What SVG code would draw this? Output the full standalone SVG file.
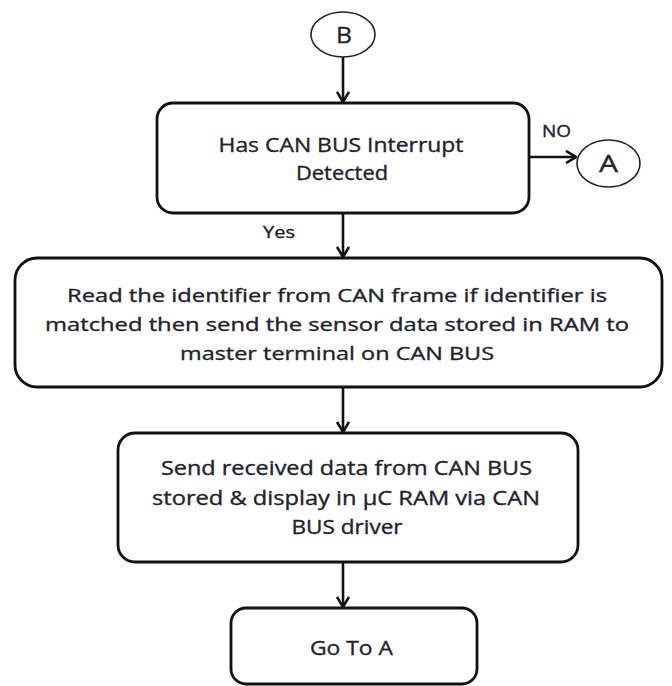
<svg xmlns="http://www.w3.org/2000/svg" width="672" height="686" viewBox="0 0 672 686">
<defs>
<style>
.box{fill:#fff;stroke:#111;stroke-width:2.8}
.conn{fill:#fff;stroke:#222;stroke-width:1.6}
.t{font-family:"Open Sans","Noto Sans","Liberation Sans",sans-serif;fill:#22222c;stroke:#22222c;stroke-width:0.35;text-anchor:middle}
.edge{fill:none;stroke:#111;stroke-width:2.6}
</style>
<marker id="arr" viewBox="0 0 12 14" markerWidth="12" markerHeight="14" refX="11" refY="7" orient="auto" markerUnits="userSpaceOnUse">
<path d="M1,1 L11,7 L1,13" fill="none" stroke="#111" stroke-width="2.6"/>
</marker>
</defs>
<rect width="672" height="686" fill="#fff"/>
<g id="connectors">
<line class="edge" x1="343" y1="57" x2="343" y2="102" marker-end="url(#arr)"/>
<line class="edge" x1="529" y1="157" x2="576" y2="157" marker-end="url(#arr)"/>
<line class="edge" x1="343" y1="213" x2="343" y2="257" marker-end="url(#arr)"/>
<line class="edge" x1="343" y1="387" x2="343" y2="432" marker-end="url(#arr)"/>
<line class="edge" x1="343" y1="562" x2="343" y2="607" marker-end="url(#arr)"/>
<text class="t" x="556.5" y="137" font-size="16" textLength="29" lengthAdjust="spacingAndGlyphs">NO</text>
<text class="t" x="279" y="238" font-size="17" textLength="32" lengthAdjust="spacingAndGlyphs">Yes</text>
</g>
<g id="nodeB">
<ellipse class="conn" cx="343" cy="34.5" rx="32" ry="22.5"/>
<text class="t" x="344" y="42.5" font-size="22" textLength="16" lengthAdjust="spacingAndGlyphs">B</text>
</g>
<g id="decision">
<rect class="box" x="157" y="103" width="372" height="110" rx="16"/>
<text class="t" x="341" y="152" font-size="19.5" textLength="245" lengthAdjust="spacingAndGlyphs">Has CAN BUS Interrupt</text>
<text class="t" x="342" y="180" font-size="19.5" textLength="92" lengthAdjust="spacingAndGlyphs">Detected</text>
</g>
<g id="nodeA">
<ellipse class="conn" cx="608.5" cy="163.5" rx="31.5" ry="23.5"/>
<text class="t" x="608.5" y="172" font-size="23" textLength="19" lengthAdjust="spacingAndGlyphs">A</text>
</g>
<g id="readIdentifier">
<rect class="box" x="15" y="258" width="647" height="129" rx="22"/>
<text class="t" x="337" y="302" font-size="19" textLength="540" lengthAdjust="spacingAndGlyphs">Read the identifier from CAN frame if identifier is</text>
<text class="t" x="337" y="331" font-size="19" textLength="584" lengthAdjust="spacingAndGlyphs">matched then send the sensor data stored in RAM to</text>
<text class="t" x="337" y="360" font-size="19" textLength="314" lengthAdjust="spacingAndGlyphs">master terminal on CAN BUS</text>
</g>
<g id="sendData">
<rect class="box" x="118" y="433" width="460" height="129" rx="17"/>
<text class="t" x="346.5" y="475" font-size="20" textLength="371" lengthAdjust="spacingAndGlyphs">Send received data from CAN BUS</text>
<text class="t" x="346" y="505" font-size="20" textLength="388" lengthAdjust="spacingAndGlyphs">stored &amp; display in µC RAM via CAN</text>
<text class="t" x="347" y="534" font-size="20" textLength="111" lengthAdjust="spacingAndGlyphs">BUS driver</text>
</g>
<g id="goToA">
<rect class="box" x="231" y="608" width="246" height="76" rx="15"/>
<text class="t" x="351.5" y="655" font-size="19.5" textLength="83" lengthAdjust="spacingAndGlyphs">Go To A</text>
</g>
</svg>
